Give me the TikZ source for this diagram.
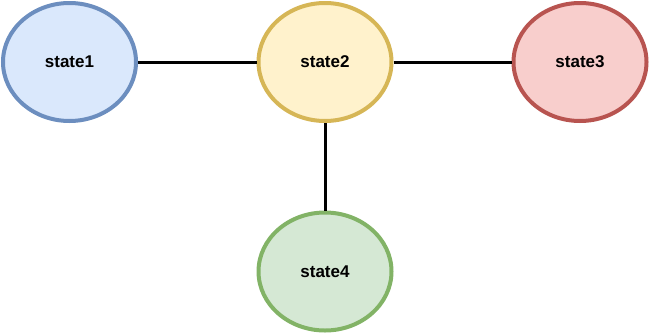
\documentclass[tikz,border=0pt]{standalone}
\usepackage{fontspec}
\setmainfont{Liberation Sans}
\usetikzlibrary{shapes.geometric}
\definecolor{bluefill}{HTML}{DAE8FC}\definecolor{bluedraw}{HTML}{6C8EBF}
\definecolor{yellowfill}{HTML}{FFF2CC}\definecolor{yellowdraw}{HTML}{D6B656}
\definecolor{redfill}{HTML}{F8CECC}\definecolor{reddraw}{HTML}{B85450}
\definecolor{greenfill}{HTML}{D5E8D4}\definecolor{greendraw}{HTML}{82B366}
\tikzset{
  statenode/.style={ellipse, minimum width=133pt, minimum height=118pt, inner sep=0pt,
    line width=4pt, font=\fontsize{17}{20}\selectfont\bfseries},
  link/.style={line width=3pt, black}
}
\begin{document}
\begin{tikzpicture}[x=1pt,y=-1pt]
\useasboundingbox (0,0) rectangle (650,335);
\node[statenode, draw=bluedraw, fill=bluefill] (s1) at (69.5,62) {state1};
\node[statenode, draw=yellowdraw, fill=yellowfill] (s2) at (325,62) {state2};
\node[statenode, draw=reddraw, fill=redfill] (s3) at (580,62) {state3};
\node[statenode, draw=greendraw, fill=greenfill] (s4) at (325,271.5) {state4};
\draw[link] (s1) -- (s2);
\draw[link] (s2) -- (s3);
\draw[link] (s2) -- (s4);
\end{tikzpicture}
\end{document}
